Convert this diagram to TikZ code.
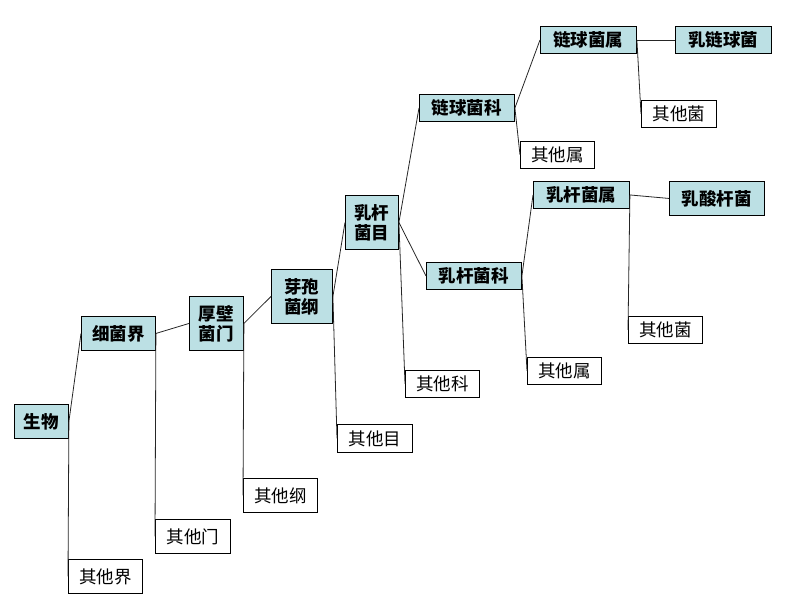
\documentclass[tikz,border=0pt]{standalone}
\usepackage{fontspec}
\setmainfont{Noto Sans CJK SC}
\definecolor{taxonblue}{RGB}{188,224,228}

\begin{document}
\begin{tikzpicture}[
  x=1pt, y=-1pt,
  taxon/.style={draw, fill=taxonblue, line width=0.9pt, anchor=north west, inner sep=0pt, align=center, font=\fontsize{17.5}{20}\selectfont\bfseries},
  other/.style={draw, fill=white, line width=0.9pt, anchor=north west, inner sep=0pt, align=center, font=\fontsize{17.5}{20}\selectfont},
  link/.style={draw=black!85, line width=0.8pt}
]
\useasboundingbox (0,0) rectangle (789,602);

\node[taxon, minimum width=54, minimum height=34] (bio) at (14,404) {生物};
\node[taxon, minimum width=74, minimum height=34] (kingdom) at (81,316) {细菌界};
\node[other, minimum width=74, minimum height=34] (kingdomO) at (68,559) {其他界};
\node[taxon, minimum width=54, minimum height=54] (phylum) at (189,296) {厚壁\\菌门};
\node[other, minimum width=75, minimum height=34] (phylumO) at (155,519) {其他门};
\node[taxon, minimum width=61, minimum height=54] (class) at (271,269) {芽孢\\菌纲};
\node[other, minimum width=74, minimum height=34] (classO) at (243,478) {其他纲};
\node[taxon, minimum width=53, minimum height=54] (order) at (345,195) {乳杆\\菌目};
\node[other, minimum width=75, minimum height=28] (orderO) at (337,424) {其他目};
\node[taxon, minimum width=95, minimum height=27] (strepFam) at (419,94) {链球菌科};
\node[taxon, minimum width=95, minimum height=27] (lactoFam) at (426,262) {乳杆菌科};
\node[other, minimum width=74, minimum height=27] (familyO) at (405,370) {其他科};
\node[taxon, minimum width=96, minimum height=27] (strepGen) at (540,26) {链球菌属};
\node[other, minimum width=74, minimum height=27] (strepGenO) at (520,141) {其他属};
\node[taxon, minimum width=96, minimum height=27] (lactis) at (675,26) {乳链球菌};
\node[other, minimum width=75, minimum height=27] (strepO) at (641,100) {其他菌};
\node[taxon, minimum width=96, minimum height=27] (lactoGen) at (533,181) {乳杆菌属};
\node[other, minimum width=74, minimum height=27] (lactoGenO) at (527,357) {其他属};
\node[taxon, minimum width=95, minimum height=34] (acido) at (669,181) {乳酸杆菌};
\node[other, minimum width=74, minimum height=27] (lactoO) at (628,316) {其他菌};

\draw[link] (bio.east) -- (kingdom.west);
\draw[link] (bio.east) -- (kingdomO.west);
\draw[link] (kingdom.east) -- (phylum.west);
\draw[link] (kingdom.east) -- (phylumO.west);
\draw[link] (phylum.east) -- (class.west);
\draw[link] (phylum.east) -- (classO.west);
\draw[link] (class.east) -- (order.west);
\draw[link] (class.east) -- (orderO.west);
\draw[link] (order.east) -- (strepFam.west);
\draw[link] (order.east) -- (lactoFam.west);
\draw[link] (order.east) -- (familyO.west);
\draw[link] (strepFam.east) -- (strepGen.west);
\draw[link] (strepFam.east) -- (strepGenO.west);
\draw[link] (strepGen.east) -- (lactis.west);
\draw[link] (strepGen.east) -- (strepO.west);
\draw[link] (lactoFam.east) -- (lactoGen.west);
\draw[link] (lactoFam.east) -- (lactoGenO.west);
\draw[link] (lactoGen.east) -- (acido.west);
\draw[link] (lactoGen.east) -- (lactoO.west);
\end{tikzpicture}
\end{document}
